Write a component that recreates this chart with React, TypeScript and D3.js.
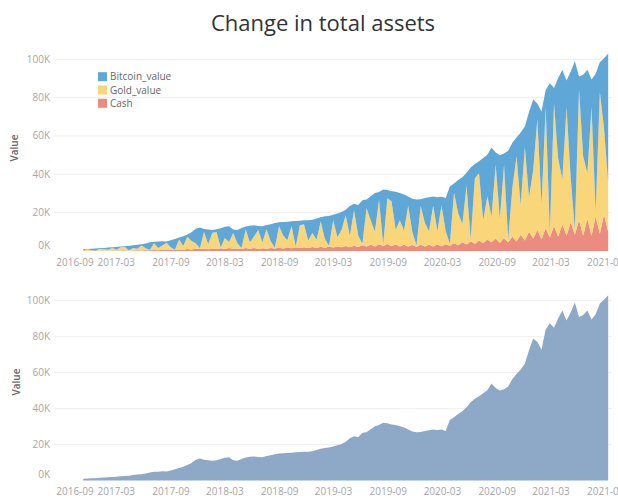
import { useMemo } from 'react'
import * as d3 from 'd3'

// series keys, bottom of the stack first
const KEYS = ['Cash', 'Gold_value', 'Bitcoin_value']
const LEGEND = ['Bitcoin_value', 'Gold_value', 'Cash']
const COLORS: Record<string, string> = {
  Bitcoin_value: '#5ea7d6',
  Gold_value: '#f9d67a',
  Cash: '#ec8b7f'
}
const TOTAL_COLOR = '#8ea8c7'

// one point every 14 days, from 2016-11-10
const START_DATE = Date.UTC(2016, 10, 10)
const STEP_DAYS = 14

const Y_TICKS = [0, 20, 40, 60, 80, 100]
const X_TICKS = ['2016-09', '2017-03', '2017-09', '2018-03', '2018-09', '2019-03',
  '2019-09', '2020-03', '2020-09', '2021-03', '2021-09']

// values in thousands
const cash = [
  0.1, 0.1, 0.1, 0.2, 0.1, 0.2, 0.1, 0.2, 0.2, 0.3,
  0.2, 0.3, 0.3, 0.4, 0.3, 0.4, 0.4, 0.5, 0.4, 0.6,
  0.5, 0.6, 0.5, 0.8, 0.7, 1.0, 0.8, 1.2, 1.0, 1.3,
  0.9, 1.2, 1.0, 1.4, 1.1, 1.5, 1.0, 1.3, 1.1, 1.6,
  1.2, 1.5, 1.1, 1.4, 1.2, 1.6, 1.3, 1.7, 1.3, 1.8,
  1.4, 1.9, 1.5, 2.0, 1.5, 2.1, 1.6, 2.2, 1.7, 2.3,
  1.8, 2.4, 1.9, 2.6, 2.0, 2.8, 2.1, 3.0, 2.3, 3.2,
  2.4, 3.5, 2.6, 3.6, 2.5, 3.4, 2.4, 3.3, 2.3, 3.1,
  2.2, 3.2, 2.3, 3.3, 2.4, 3.4, 2.5, 3.5, 2.8, 4.0,
  3.0, 4.5, 3.4, 5.0, 3.8, 5.5, 4.0, 6.0, 4.5, 6.5,
  4.2, 6.8, 4.5, 7.5, 5.0, 8.5, 5.5, 10.0, 6.5, 11.0,
  6.0, 12.0, 7.0, 13.0, 7.5, 14.0, 8.0, 15.0, 8.5, 16.0,
  8.0, 17.0, 8.0, 18.0, 9.0, 19.0, 10.0
]

const gold = [
  0.3, 0.8, 0.3, 0.1, 1.1, 0.7, 0.5, 1.4, 0.5, 1.7,
  1.9, 0.1, 1.3, 0.8, 2.6, 1.0, 0.1, 3.6, 1.2, 2.3,
  3.8, 1.4, 0.2, 5.2, 1.9, 6.4, 4.4, 2.9, 0.4, 8.6,
  2.8, 8.3, 8.9, 0.4, 5.7, 3.2, 8.4, 2.8, 0.4, 9.6,
  3.3, 6.0, 9.8, 3.2, 10.2, 3.5, 0.4, 11.3, 6.8, 3.8,
  11.6, 0.5, 11.9, 12.0, 4.0, 7.3, 4.3, 13.2, 4.5, 0.5,
  14.2, 4.9, 9.1, 16.1, 5.9, 18.5, 6.0, 0.8, 20.1, 12.8,
  7.6, 23.1, 1.0, 23.9, 23.4, 7.7, 13.6, 7.4, 21.3, 6.8,
  0.8, 20.3, 12.4, 7.0, 21.3, 7.0, 21.2, 6.9, 1.0, 26.4,
  16.7, 9.6, 30.6, 1.3, 34.1, 35.1, 12.1, 22.6, 13.5, 38.6,
  12.5, 38.1, 1.6, 25.4, 44.4, 15.5, 48.8, 18.1, 35.6, 57.8,
  18.2, 63.0, 2.6, 63.8, 40.6, 23.6, 66.8, 23.4, 3.0, 68.3,
  41.4, 23.6, 67.1, 2.8, 73.9, 45.2, 25.8
]

const bitcoin = [
  0.6, 0.2, 0.8, 1.0, 0.3, 0.7, 1.2, 0.3, 1.4, 0.3,
  0.4, 2.3, 1.4, 2.1, 0.6, 2.5, 4.0, 0.7, 3.3, 2.2,
  0.7, 3.6, 5.6, 1.0, 5.1, 1.2, 4.6, 7.5, 10.9, 1.6,
  7.5, 1.5, 1.4, 10.1, 5.8, 8.2, 1.8, 6.9, 10.5, 1.6,
  8.7, 5.9, 2.2, 8.3, 2.2, 8.9, 12.9, 2.0, 7.0, 9.7,
  2.5, 13.3, 2.4, 2.0, 10.5, 6.9, 11.1, 2.2, 11.9, 15.5,
  2.9, 12.3, 9.3, 2.8, 15.6, 3.3, 15.9, 22.7, 4.4, 12.5,
  20.2, 4.2, 28.5, 4.3, 5.3, 19.8, 14.2, 18.8, 4.8, 17.3,
  23.8, 3.5, 12.9, 17.7, 4.7, 17.7, 4.6, 17.2, 29.8, 4.8,
  17.3, 24.4, 6.8, 37.2, 7.5, 6.2, 32.4, 21.6, 36.0, 6.3,
  33.3, 5.9, 46.2, 23.6, 9.8, 37.8, 10.7, 44.4, 36.9, 8.2,
  48.6, 9.0, 77.9, 8.2, 42.1, 56.9, 14.2, 55.1, 87.5, 6.7,
  42.6, 53.9, 14.4, 71.7, 15.6, 36.3, 67.2
]

const FONT = '"Open Sans", "DejaVu Sans", sans-serif'

function parseMonth(s: string) {
  const [y, m] = s.split('-').map(Number)
  return new Date(Date.UTC(y, m - 1, 1))
}

export default function App() {
  const width = 618
  const height = 498

  const rows = useMemo(() => cash.map((c, i) => ({
    date: new Date(START_DATE + i * STEP_DAYS * 86400000),
    Cash: c,
    Gold_value: gold[i],
    Bitcoin_value: bitcoin[i]
  })), [])

  const stacked = useMemo(() => d3.stack<any>().keys(KEYS)(rows), [rows])

  // shared time axis
  const x = d3.scaleUtc()
    .domain([parseMonth('2016-09'), parseMonth('2021-09')])
    .range([62.4, 605.8])

  const yTop = d3.scaleLinear().domain([0, 100]).range([251, 59.3])
  const yBot = d3.scaleLinear().domain([0, 100]).range([480.5, 300.7])

  const areaTop = d3.area<any>()
    .x(d => x(d.data.date))
    .y0(d => yTop(d[0]))
    .y1(d => yTop(d[1]))

  // total assets = top of the stack
  const totals = stacked[stacked.length - 1].map(d => ({ date: d.data.date, value: d[1] }))
  const areaBot = d3.area<any>()
    .x(d => x(d.date))
    .y0(yBot(0))
    .y1(d => yBot(d.value))

  const gridLeft = 54
  const gridRight = 612

  const yAxis = (y: d3.ScaleLinear<number, number>, key: string) => (
    <g key={key}>
      {Y_TICKS.map(t => (
        <g key={t}>
          {t > 0 && (
            <line x1={gridLeft} x2={gridRight} y1={y(t)} y2={y(t)} stroke="#efefef" strokeWidth={1} />
          )}
          <text
            x={50}
            y={t === 0 ? y(t) - 6 : y(t)}
            dy="0.35em"
            textAnchor="end"
            fontSize={10}
            fill="#a6a6a6"
          >
            {t}K
          </text>
        </g>
      ))}
    </g>
  )

  const xAxis = (labelY: number, key: string) => (
    <g key={key}>
      {X_TICKS.map((t, i) => (
        <text
          key={t}
          x={i === 0 ? Math.max(x(parseMonth(t)), 75) : x(parseMonth(t))}
          y={labelY}
          dy="0.35em"
          textAnchor="middle"
          fontSize={10}
          fill="#a6a6a6"
        >
          {t}
        </text>
      ))}
    </g>
  )

  return (
    <svg
      width={width}
      height={height}
      style={{ position: 'fixed', left: 0, top: 0, background: '#fff' }}
      fontFamily={FONT}
    >
      <text x={323} y={31} textAnchor="middle" fontSize={22} fill="#333">
        Change in total assets
      </text>

      {/* top chart: stacked composition */}
      {yAxis(yTop, 'ytop')}
      {stacked.map(layer => (
        <path key={layer.key} d={areaTop(layer) || ''} fill={COLORS[layer.key]} />
      ))}
      {xAxis(262, 'xtop')}
      <text transform="translate(18,148) rotate(-90)" textAnchor="middle" fontSize={10} fontWeight={600} fill="#666">
        Value
      </text>

      {/* legend */}
      {LEGEND.map((k, i) => (
        <g key={k} transform={`translate(98,${76.7 + i * 13.3})`}>
          <rect x={0} y={-4.5} width={9} height={9} fill={COLORS[k]} />
          <text x={12} y={0} dy="0.35em" fontSize={10} fill="#666">{k}</text>
        </g>
      ))}

      {/* bottom chart: total */}
      {yAxis(yBot, 'ybot')}
      <path d={areaBot(totals) || ''} fill={TOTAL_COLOR} />
      {xAxis(491.5, 'xbot')}
      <text transform="translate(20,382) rotate(-90)" textAnchor="middle" fontSize={10} fontWeight={600} fill="#666">
        Value
      </text>
    </svg>
  )
}
